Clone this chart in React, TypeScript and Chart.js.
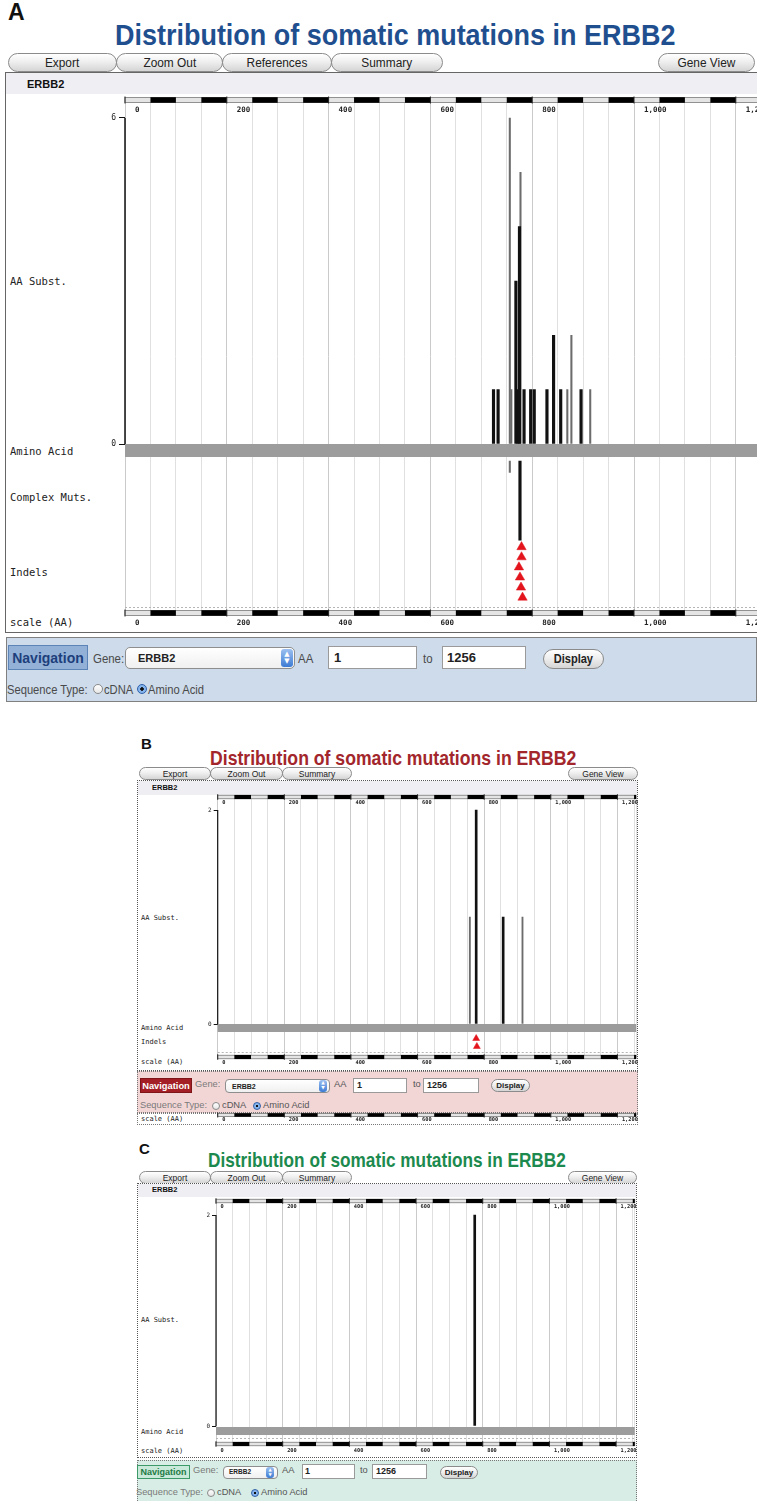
import { useEffect, useRef } from 'react';
import { Chart, registerables } from 'chart.js';

Chart.register(...registerables);

/* ---------------- data ---------------- */
const PROTEIN_LENGTH = 1256;
const GRID_STEP_AA = 50;
const scaleTickValues = [0, 200, 400, 600, 800, 1000, 1200];
const scaleTickLabels = ['0', '200', '400', '600', '800', '1,000', '1,200'];

// Panel A
const substPositionsA = [724, 733, 756, 759, 768, 772, 775, 777, 784, 797, 804, 829, 842, 856, 869, 877, 896, 914];
const substCountsA = [1, 1, 6, 1, 3, 1, 4, 5, 1, 1, 1, 1, 2, 1, 1, 2, 1, 1];
const substClassA = ['A', 'A', 'B', 'B', 'A', 'A', 'A', 'B', 'A', 'A', 'A', 'A', 'A', 'A', 'B', 'B', 'A', 'B'];
const complexPositionsA = [756, 776];
const complexCountsA = [1, 7];
const complexClassA = ['B', 'A'];
const indelPositionsA = [779, 779, 774, 776, 778, 781];
const substAxisMaxA = 6;

// Panel B
const substPositionsB = [757, 776, 857, 915];
const substCountsB = [1, 2, 1, 1];
const substClassB = ['B', 'A', 'A', 'B'];
const indelPositionsB = [776, 778];
const substAxisMaxB = 2;

// Panel C
const substPositionsC = [776];
const substCountsC = [2];
const substClassC = ['A'];
const substAxisMaxC = 2;

/* ---------------- styling / layout ---------------- */
const SANS = '"Liberation Sans", Arial, Helvetica, sans-serif';
const MONO = '"DejaVu Sans Mono", "Liberation Mono", monospace';

const geomA = {
  canvasLeft: 90, canvasTop: 86, plotLeft: 125, plotTop: 100, plotBottom: 613, padRight: 30, padBottom: 22,
  pxPerAA: 0.509, zeroY: 444, maxTickY: 118,
  bandY: 450.5, bandH: 13, dashY: 607,
  complexTopY: 461, complexUnitPx: 11.3,
  indelY0: 547, indelStepPx: 10.1, indelRadius: 5.4,
  rulerH: 5, tickFont: 7.5, yTickFont: 8, yTickLen: 6, yTickPad: 3, topLabelY: 110, bottomLabelY: 623, labelOffset: 10,
  barWide: 2.5, barThin: 1.4, axisW: 1.5,
};
const geomB = {
  canvasLeft: 185, canvasTop: 787, plotLeft: 217.7, plotTop: 797, plotBottom: 1057, padRight: 25, padBottom: 14,
  pxPerAA: 0.3331, zeroY: 1024, maxTickY: 810,
  bandY: 1028, bandH: 8, dashY: 1052,
  indelY0: 1038.5, indelStepPx: 8, indelRadius: 4,
  rulerH: 3.5, tickFont: 5.3, yTickFont: 6, yTickLen: 4, yTickPad: 2, topLabelY: 803, bottomLabelY: 1063, labelOffset: 4.5,
  barWide: 2, barThin: 1.2, axisW: 1.2,
};
const geomStripB = {
  strip: true,
  canvasLeft: 185, canvasTop: 1106, plotLeft: 217.7, plotTop: 1115, plotBottom: 1116, padRight: 25, padBottom: 10,
  pxPerAA: 0.3331, zeroY: 1116, maxTickY: 1115,
  rulerH: 3, tickFont: 5.3, yTickFont: 6, yTickLen: 4, yTickPad: 2, topLabelY: 1119, bottomLabelY: 1120, labelOffset: 4.5,
};
const geomC = {
  canvasLeft: 185, canvasTop: 1190, plotLeft: 216, plotTop: 1201, plotBottom: 1444, padRight: 25, padBottom: 14,
  pxPerAA: 0.3334, zeroY: 1426, maxTickY: 1215,
  bandY: 1431, bandH: 8, dashY: 1438,
  rulerH: 3.5, tickFont: 5.3, yTickFont: 6, yTickLen: 4, yTickPad: 2, topLabelY: 1207, bottomLabelY: 1451, labelOffset: 4.5,
  barWide: 2, barThin: 1.2, axisW: 1.2,
};

function layoutOf(g: any) {
  const plotWidth = PROTEIN_LENGTH * g.pxPerAA;
  const padL = g.plotLeft - g.canvasLeft;
  const padT = g.plotTop - g.canvasTop;
  const width = Math.ceil(padL + plotWidth + g.padRight);
  const padR = width - padL - plotWidth;
  const plotH = g.plotBottom - g.plotTop;
  const height = Math.ceil(padT + plotH + g.padBottom);
  const padB = height - padT - plotH;
  return { width, height, padL, padT, padR, padB };
}

const rulerPlugin = {
  id: 'ruler',
  beforeDatasetsDraw(chart: any, _a: any, opts: any) {
    if (!opts || opts.dashValue == null) return;
    const { ctx, chartArea: ca } = chart;
    const py = Math.round(chart.scales.y.getPixelForValue(opts.dashValue)) + 0.5;
    ctx.save();
    ctx.setLineDash([2, 2]);
    ctx.strokeStyle = '#b5b5b5';
    ctx.lineWidth = 1;
    ctx.beginPath();
    ctx.moveTo(ca.left, py);
    ctx.lineTo(ca.right, py);
    ctx.stroke();
    ctx.restore();
  },
  afterDatasetsDraw(chart: any, _a: any, opts: any) {
    if (!opts || !opts.edges) return;
    const { ctx, chartArea: ca } = chart;
    const xs = chart.scales.x;
    const h = opts.height;
    ctx.save();
    for (const edge of opts.edges) {
      const cy = edge === 'top' ? ca.top : ca.bottom;
      ctx.fillStyle = '#e4e4e4';
      ctx.fillRect(ca.left, cy - h / 2, ca.width, h);
      ctx.strokeStyle = '#7a7a7a';
      ctx.lineWidth = 0.8;
      ctx.strokeRect(ca.left, cy - h / 2, ca.width, h);
      ctx.fillStyle = '#000';
      for (let v = opts.step; v < PROTEIN_LENGTH; v += 2 * opts.step) {
        const x0 = xs.getPixelForValue(v);
        const x1 = xs.getPixelForValue(Math.min(v + opts.step, PROTEIN_LENGTH));
        ctx.fillRect(x0, cy - h / 2 - 0.3, x1 - x0, h + 0.6);
      }
      ctx.fillStyle = '#222';
      for (const v of scaleTickValues) {
        const px = xs.getPixelForValue(v);
        ctx.fillRect(px - 0.5, cy - h / 2 - 1, 1, h + 2);
      }
    }
    ctx.restore();
  },
};

function buildConfig(g: any, d: any, L: any) {
  const unit = (g.zeroY - g.maxTickY) / d.yMax;
  const val = (py: number) => (g.zeroY - py) / unit;
  const lh = g.tickFont * 1.2;
  const tickFont = { family: MONO, size: g.tickFont, weight: 'bold' };
  const labelFor = (v: number) => {
    const i = scaleTickValues.indexOf(v);
    return i >= 0 ? scaleTickLabels[i] : '';
  };
  const gridColor = (c: any) =>
    c.tick && scaleTickValues.indexOf(c.tick.value) >= 0 ? '#cacaca' : '#e0e0e0';

  const datasets: any[] = [];
  if (!g.strip) {
    datasets.push({
      type: 'line', order: 10,
      data: [{ x: 0, y: val(g.bandY) }, { x: PROTEIN_LENGTH, y: val(g.bandY) }],
      borderColor: '#9c9c9c', borderWidth: g.bandH, borderCapStyle: 'butt', pointRadius: 0, clip: false,
    });
    datasets.push({
      type: 'line', order: 1,
      data: [{ x: 0, y: 0 }, { x: 0, y: d.yMax }],
      borderColor: '#111', borderWidth: g.axisW, borderCapStyle: 'butt', pointRadius: 0, clip: false,
    });
    for (const cls of ['A', 'B']) {
      const pts = d.substPos
        .map((p: number, i: number) => ({ x: p, y: d.substCounts[i], c: d.substClass[i] }))
        .filter((o: any) => o.c === cls)
        .map((o: any) => ({ x: o.x, y: o.y }));
      if (pts.length) {
        datasets.push({
          type: 'bar', order: 5, data: pts, grouped: false,
          barThickness: cls === 'A' ? g.barWide : g.barThin,
          backgroundColor: cls === 'A' ? '#111' : '#6c6c6c', borderWidth: 0,
        });
      }
    }
    if (d.complexPos) {
      for (const cls of ['A', 'B']) {
        const pts = d.complexPos
          .map((p: number, i: number) => ({ x: p, n: d.complexCounts[i], c: d.complexClass[i] }))
          .filter((o: any) => o.c === cls)
          .map((o: any) => ({ x: o.x, y: [val(g.complexTopY), val(g.complexTopY + o.n * g.complexUnitPx)] }));
        if (pts.length) {
          datasets.push({
            type: 'bar', order: 5, data: pts, grouped: false,
            barThickness: cls === 'A' ? g.barWide : g.barThin,
            backgroundColor: cls === 'A' ? '#111' : '#6c6c6c', borderWidth: 0,
          });
        }
      }
    }
    if (d.indelPos) {
      datasets.push({
        type: 'scatter', order: 0,
        data: d.indelPos.map((p: number, i: number) => ({ x: p, y: val(g.indelY0 + i * g.indelStepPx) })),
        pointStyle: 'triangle', pointRadius: g.indelRadius,
        backgroundColor: '#e3141c', borderColor: '#e3141c', pointBackgroundColor: '#e3141c',
        pointBorderColor: '#e3141c', pointBorderWidth: 0.5, showLine: false, clip: false,
      });
    }
  }

  const xCommon: any = {
    type: 'linear', min: 0, max: PROTEIN_LENGTH, bounds: 'data', offset: false,
    border: { display: false },
  };
  const tickCommon: any = {
    stepSize: GRID_STEP_AA, includeBounds: false, autoSkip: false, maxRotation: 0, minRotation: 0,
    align: 'start', labelOffset: g.labelOffset, font: tickFont, color: '#222',
    callback: (v: any) => labelFor(Number(v)),
  };

  return {
    type: 'bar',
    data: { datasets },
    plugins: [rulerPlugin],
    options: {
      responsive: false,
      animation: false,
      events: [],
      layout: { padding: { left: 1, top: 1, right: L.padR, bottom: 1 } },
      plugins: {
        legend: { display: false },
        tooltip: { enabled: false },
        ruler: {
          edges: g.strip ? ['top'] : ['top', 'bottom'],
          height: g.rulerH,
          step: GRID_STEP_AA,
          dashValue: g.strip ? null : val(g.dashY),
        },
      },
      scales: {
        x: {
          ...xCommon, position: 'bottom',
          afterFit: (s: any) => { s.height = L.padB - 1; },
          grid: { display: !g.strip, offset: false, drawTicks: false, drawOnChartArea: true, color: gridColor, lineWidth: 1 },
          ticks: { ...tickCommon, padding: g.bottomLabelY - g.plotBottom - lh / 2 },
        },
        x2: {
          ...xCommon, position: 'top', display: !g.strip,
          afterFit: (s: any) => { s.height = L.padT - 1; },
          grid: { display: false, offset: false },
          ticks: { ...tickCommon, mirror: true, padding: (g.topLabelY - g.plotTop) - lh / 2 },
        },
        y: {
          type: 'linear', display: !g.strip, bounds: 'data', stacked: false,
          min: val(g.plotBottom), max: val(g.plotTop),
          afterFit: (s: any) => { s.width = L.padL - 1; },
          afterBuildTicks: (s: any) => { s.ticks = [{ value: 0 }, { value: d.yMax }]; },
          grid: { drawOnChartArea: false, drawTicks: true, tickLength: g.yTickLen, color: '#111', lineWidth: 1 },
          border: { display: false },
          ticks: { font: { family: MONO, size: g.yTickFont }, color: '#222', padding: g.yTickPad, callback: (v: any) => String(v) },
        },
      },
    },
  };
}

function PanelChart({ geom, data }: any) {
  const ref = useRef<HTMLCanvasElement>(null);
  const L = layoutOf(geom);
  useEffect(() => {
    const chart = new Chart(ref.current as HTMLCanvasElement, buildConfig(geom, data, L) as any);
    return () => chart.destroy();
  }, []);
  return (
    <canvas
      ref={ref}
      width={L.width}
      height={L.height}
      style={{ position: 'absolute', left: geom.canvasLeft, top: geom.canvasTop, width: L.width, height: L.height }}
    />
  );
}

/* ---------------- html helpers ---------------- */
function Txt({ x, y, fs, color = '#222', weight = 400, family = SANS, sx = 1, children }: any) {
  return (
    <div
      style={{
        position: 'absolute', left: x, top: y, fontSize: fs, fontFamily: family, fontWeight: weight, color,
        lineHeight: 1, whiteSpace: 'nowrap', transform: `translateY(-50%) scaleX(${sx})`, transformOrigin: 'left center',
      }}
    >
      {children}
    </div>
  );
}

function Box({ x, y, w, h, bg = 'transparent', border = 'none', radius = 0, children, style }: any) {
  return (
    <div
      style={{
        position: 'absolute', left: x, top: y, width: w, height: h, boxSizing: 'border-box', background: bg,
        border, borderRadius: radius, display: 'flex', alignItems: 'center', justifyContent: 'center', ...style,
      }}
    >
      {children}
    </div>
  );
}

function Pill({ x, y, w, h, fs, children, weight = 400, sx = 1 }: any) {
  return (
    <Box
      x={x} y={y} w={w} h={h} radius={h / 2} border="1px solid #8b8b8b"
      bg="linear-gradient(#ffffff 0%, #efefef 45%, #d5d5d5 100%)"
    >
      <span style={{ fontFamily: SANS, fontSize: fs, fontWeight: weight, color: '#222', whiteSpace: 'nowrap', display: 'inline-block', transform: `scaleX(${sx})` }}>
        {children}
      </span>
    </Box>
  );
}

function Radio({ x, y, r, checked }: any) {
  return (
    <div
      style={{
        position: 'absolute', left: x - r, top: y - r, width: 2 * r, height: 2 * r, borderRadius: '50%',
        boxSizing: 'border-box', border: `1px solid ${checked ? '#2d5fa8' : '#8a8a8a'}`,
        background: checked
          ? 'radial-gradient(circle, #111 0 27%, #86b4ec 33% 100%)'
          : 'linear-gradient(#ffffff, #e6e6e6)',
      }}
    />
  );
}

function Stepper({ x, y, w, h }: any) {
  return (
    <Box x={x} y={y} w={w} h={h} radius={3} bg="linear-gradient(#9cc0f0, #3d7bd4)" style={{ flexDirection: 'column' }}>
      <span style={{ color: '#fff', fontSize: h * 0.38, lineHeight: 1, fontFamily: 'DejaVu Sans' }}>▲</span>
      <span style={{ color: '#fff', fontSize: h * 0.38, lineHeight: 1, fontFamily: 'DejaVu Sans' }}>▼</span>
    </Box>
  );
}

/* ---------------- app ---------------- */
export default function App() {
  const dataA = {
    yMax: substAxisMaxA, substPos: substPositionsA, substCounts: substCountsA, substClass: substClassA,
    complexPos: complexPositionsA, complexCounts: complexCountsA, complexClass: complexClassA,
    indelPos: indelPositionsA,
  };
  const dataB = {
    yMax: substAxisMaxB, substPos: substPositionsB, substCounts: substCountsB, substClass: substClassB,
    indelPos: indelPositionsB,
  };
  const dataStrip = { yMax: 1, substPos: [], substCounts: [], substClass: [] };
  const dataC = { yMax: substAxisMaxC, substPos: substPositionsC, substCounts: substCountsC, substClass: substClassC };

  const title = 'Distribution of somatic mutations in ERBB2';

  return (
    <div style={{ position: 'absolute', left: 0, top: 0, width: 757, height: 1501, overflow: 'hidden', background: '#fff' }}>
      {/* ================= Panel A ================= */}
      <Txt x={8} y={12} fs={23} weight={700} color="#111">A</Txt>
      <Txt x={115} y={35} fs={29} weight={700} color="#1f4f8f" sx={0.93}>{title}</Txt>
      <Pill x={8} y={53} w={109} h={19} fs={12.5} sx={0.95}>Export</Pill>
      <Pill x={116} y={53} w={107} h={19} fs={12.5} sx={0.95}>Zoom Out</Pill>
      <Pill x={222} y={53} w={110} h={19} fs={12.5} sx={0.95}>References</Pill>
      <Pill x={331} y={53} w={112} h={19} fs={12.5} sx={0.95}>Summary</Pill>
      <Pill x={658} y={53} w={97} h={19} fs={12.5} sx={0.95}>Gene View</Pill>
      <Box x={5} y={72} w={760} h={561} bg="#fff" border="1px solid #666" />
      <Box x={6} y={73} w={758} h={21} bg="#eeeef3" />
      <Txt x={27} y={84} fs={11} weight={700} color="#111">ERBB2</Txt>
      <Txt x={10} y={281} fs={10.5} family={MONO}>AA Subst.</Txt>
      <Txt x={10} y={451} fs={10.5} family={MONO}>Amino Acid</Txt>
      <Txt x={10} y={497} fs={10.5} family={MONO}>Complex Muts.</Txt>
      <Txt x={10} y={572} fs={10.5} family={MONO}>Indels</Txt>
      <Txt x={10} y={622} fs={10.5} family={MONO}>scale (AA)</Txt>
      <PanelChart geom={geomA} data={dataA} />

      <Box x={6} y={637} w={751} h={65} bg="#cddbea" border="1px solid #808080" />
      <Box x={8} y={645} w={80} h={25} bg="#93b1d7" border="1px solid #5d84b6">
        <span style={{ fontFamily: SANS, fontSize: 14, fontWeight: 700, color: '#1d3f7c' }}>Navigation</span>
      </Box>
      <Txt x={93} y={658} fs={13} color="#4a4a4a" sx={0.88}>Gene:</Txt>
      <Box x={125} y={647} w={170} h={22} bg="linear-gradient(#ffffff, #f0f0f0)" border="1px solid #8e8e8e" radius={5} />
      <Txt x={138} y={658} fs={11} weight={700} color="#222">ERBB2</Txt>
      <Stepper x={281} y={649} w={12} h={18} />
      <Txt x={298} y={658} fs={13} color="#4a4a4a" sx={0.88}>AA</Txt>
      <Box x={328} y={646} w={89} h={23} bg="#fff" border="1px solid #9a9a9a" />
      <Txt x={334} y={657} fs={13} weight={700} color="#222">1</Txt>
      <Txt x={423} y={658} fs={13} color="#4a4a4a" sx={0.88}>to</Txt>
      <Box x={442} y={646} w={84} h={23} bg="#fff" border="1px solid #9a9a9a" />
      <Txt x={447} y={657} fs={13} weight={700} color="#222">1256</Txt>
      <Pill x={543} y={649} w={61} h={20} fs={12} weight={700} sx={0.92}>Display</Pill>
      <Txt x={7} y={689} fs={13} color="#4a4a4a" sx={0.86}>Sequence Type:</Txt>
      <Radio x={98} y={689} r={5} />
      <Txt x={104} y={689} fs={13} color="#4a4a4a" sx={0.86}>cDNA</Txt>
      <Radio x={142} y={689} r={5} checked />
      <Txt x={148} y={689} fs={13} color="#4a4a4a" sx={0.86}>Amino Acid</Txt>

      {/* ================= Panel B ================= */}
      <Txt x={141} y={743} fs={15} weight={700} color="#111">B</Txt>
      <Txt x={210} y={758} fs={20.5} weight={700} color="#a2262b" sx={0.86}>{title}</Txt>
      <Pill x={139} y={767} w={72} h={13} fs={8.5}>Export</Pill>
      <Pill x={210} y={767} w={73} h={13} fs={8.5}>Zoom Out</Pill>
      <Pill x={282} y={767} w={70} h={13} fs={8.5}>Summary</Pill>
      <Pill x={568} y={767} w={70} h={13} fs={8.5}>Gene View</Pill>
      <Box x={137} y={780} w={501} h={291} bg="#fff" border="1px dotted #555" />
      <Box x={138} y={781} w={499} h={14} bg="#efeff3" />
      <Txt x={152} y={788} fs={7.5} weight={700} color="#111">ERBB2</Txt>
      <Txt x={141} y={918} fs={7} family={MONO}>AA Subst.</Txt>
      <Txt x={141} y={1028} fs={7} family={MONO}>Amino Acid</Txt>
      <Txt x={141} y={1042} fs={7} family={MONO}>Indels</Txt>
      <Txt x={141} y={1062} fs={7} family={MONO}>scale (AA)</Txt>
      <PanelChart geom={geomB} data={dataB} />

      <Box x={137} y={1071} w={501} h={42} bg="#f2d6d6" border="1px dotted #777" />
      <Box x={140} y={1078} w={52} h={15} bg="#a31f25" border="1px solid #7d1519">
        <span style={{ fontFamily: SANS, fontSize: 9.3, fontWeight: 700, color: '#fff' }}>Navigation</span>
      </Box>
      <Txt x={195} y={1085} fs={9.3} color="#7a7a7a">Gene:</Txt>
      <Box x={225} y={1079} w={105} h={14} bg="linear-gradient(#ffffff, #f0f0f0)" border="1px solid #8e8e8e" radius={4} />
      <Txt x={232} y={1086} fs={7} weight={700} color="#222">ERBB2</Txt>
      <Stepper x={319} y={1080} w={8} h={12} />
      <Txt x={334} y={1085} fs={9.3} color="#555">AA</Txt>
      <Box x={353} y={1078} w={54} h={15} bg="#fff" border="1px solid #9a9a9a" />
      <Txt x={357} y={1085} fs={9} weight={700} color="#222">1</Txt>
      <Txt x={413} y={1085} fs={9.3} color="#555">to</Txt>
      <Box x={423} y={1078} w={56} h={15} bg="#fff" border="1px solid #9a9a9a" />
      <Txt x={427} y={1085} fs={9} weight={700} color="#222">1256</Txt>
      <Pill x={491} y={1079} w={39} h={13} fs={8} weight={700}>Display</Pill>
      <Txt x={140} y={1106} fs={9.3} color="#7a7a7a">Sequence Type:</Txt>
      <Radio x={216} y={1106} r={4} />
      <Txt x={222} y={1106} fs={9.3} color="#555">cDNA</Txt>
      <Radio x={257} y={1106} r={4} checked />
      <Txt x={263} y={1106} fs={9.3} color="#555">Amino Acid</Txt>

      <Box x={137} y={1113} w={501} h={12} bg="#fff" border="1px dotted #777" />
      <Txt x={141} y={1119} fs={7} family={MONO}>scale (AA)</Txt>
      <PanelChart geom={geomStripB} data={dataStrip} />

      {/* ================= Panel C ================= */}
      <Txt x={139} y={1148} fs={15} weight={700} color="#111">C</Txt>
      <Txt x={208} y={1160} fs={20.5} weight={700} color="#1c8a4e" sx={0.84}>{title}</Txt>
      <Pill x={139} y={1171} w={72} h={13} fs={8.5}>Export</Pill>
      <Pill x={210} y={1171} w={73} h={13} fs={8.5}>Zoom Out</Pill>
      <Pill x={282} y={1171} w={70} h={13} fs={8.5}>Summary</Pill>
      <Pill x={568} y={1171} w={69} h={13} fs={8.5}>Gene View</Pill>
      <Box x={137} y={1183} w={500} h={275} bg="#fff" border="1px dotted #555" />
      <Box x={138} y={1184} w={498} h={13} bg="#efeff3" />
      <Txt x={152} y={1190} fs={7.5} weight={700} color="#111">ERBB2</Txt>
      <Txt x={141} y={1320} fs={7} family={MONO}>AA Subst.</Txt>
      <Txt x={141} y={1432} fs={7} family={MONO}>Amino Acid</Txt>
      <Txt x={141} y={1451} fs={7} family={MONO}>scale (AA)</Txt>
      <PanelChart geom={geomC} data={dataC} />

      <Box x={137} y={1460} w={500} h={45} bg="#d8ede5" border="1px dotted #777" />
      <Box x={137} y={1465} w={53} h={14} bg="#c9e9da" border="1px solid #3b9a68">
        <span style={{ fontFamily: SANS, fontSize: 9, fontWeight: 700, color: '#1d7a45' }}>Navigation</span>
      </Box>
      <Txt x={193} y={1471} fs={9.3} color="#7a7a7a">Gene:</Txt>
      <Box x={223} y={1466} w={55} h={13} bg="linear-gradient(#ffffff, #f0f0f0)" border="1px solid #8e8e8e" radius={4} />
      <Txt x={229} y={1472} fs={6.5} weight={700} color="#222">ERBB2</Txt>
      <Stepper x={266} y={1467} w={8} h={11} />
      <Txt x={282} y={1471} fs={9.3} color="#555">AA</Txt>
      <Box x={302} y={1464} w={53} h={15} bg="#fff" border="1px solid #9a9a9a" />
      <Txt x={305} y={1471} fs={9} weight={700} color="#222">1</Txt>
      <Txt x={360} y={1471} fs={9.3} color="#555">to</Txt>
      <Box x={372} y={1464} w={55} h={15} bg="#fff" border="1px solid #9a9a9a" />
      <Txt x={376} y={1471} fs={9} weight={700} color="#222">1256</Txt>
      <Pill x={440} y={1466} w={38} h={13} fs={8} weight={700}>Display</Pill>
      <Txt x={136} y={1493} fs={9.3} color="#7a7a7a">Sequence Type:</Txt>
      <Radio x={211} y={1493} r={4} />
      <Txt x={217} y={1493} fs={9.3} color="#555">cDNA</Txt>
      <Radio x={255} y={1493} r={4} checked />
      <Txt x={261} y={1493} fs={9.3} color="#555">Amino Acid</Txt>
    </div>
  );
}
